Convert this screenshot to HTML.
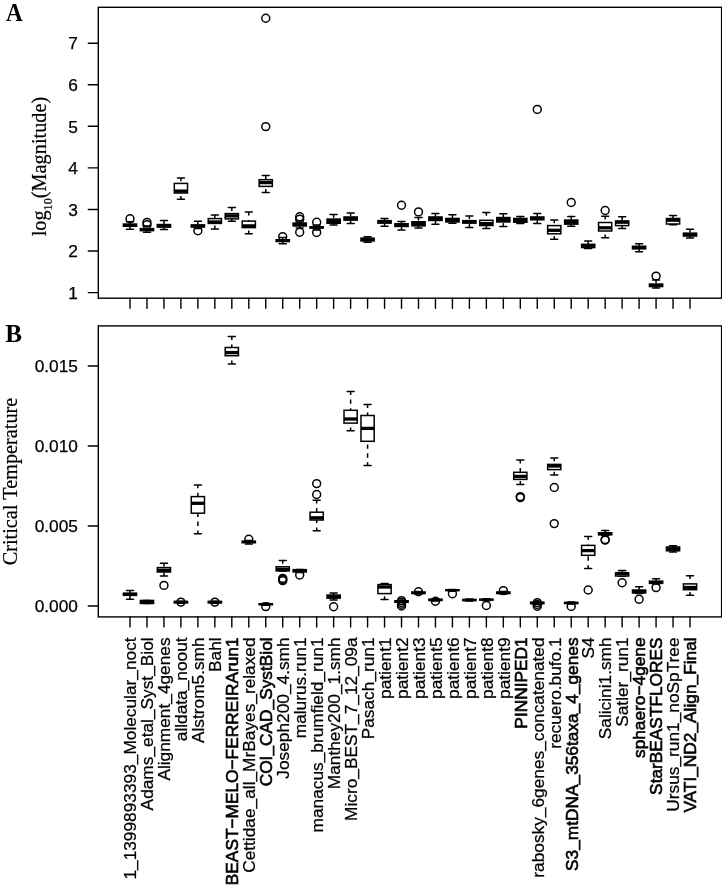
<!DOCTYPE html>
<html><head><meta charset="utf-8"><style>
html,body{margin:0;padding:0;background:#fff;}
body{width:722px;height:885px;overflow:hidden;}
svg{display:block;filter:grayscale(1);}
line{stroke:#000;stroke-width:1.5;}
line.w{stroke-dasharray:4.4 4.5;stroke-dashoffset:1.1;}
line.s{stroke-linecap:round;}
line.m{stroke-width:3.3;}
rect.b{fill:#fff;stroke:#000;stroke-width:1.5;}
rect.fr{fill:none;stroke:#000;stroke-width:1.4;}
line.t{stroke-width:1.4;stroke-linecap:round;}
circle{fill:none;stroke:#000;stroke-width:1.5;}
text{fill:#000;}
.tl{font-family:"Liberation Sans",sans-serif;font-size:17.3px;stroke:#000;stroke-width:0.25px;}
.xl{font-family:"Liberation Sans",sans-serif;font-size:17.3px;stroke:#000;stroke-width:0.25px;}
.xb{stroke:#000;stroke-width:0.6px;}
.pl{font-family:"Liberation Serif",serif;font-size:25.2px;font-weight:bold;}
.yt{font-family:"Liberation Serif",serif;font-size:20.3px;stroke:#000;stroke-width:0.2px;}
</style></head><body>
<svg width="722" height="885" viewBox="0 0 722 885">
<rect width="722" height="885" fill="#fff"/>
<rect x="98.3" y="7.3" width="623.3" height="290.9" class="fr"/>
<rect x="98.3" y="325.9" width="623.3" height="291" class="fr"/>
<line x1="88.3" y1="292.6" x2="98.3" y2="292.6" class="t"/>
<text x="77.9" y="298.8" class="tl" text-anchor="end">1</text>
<line x1="88.3" y1="251.03" x2="98.3" y2="251.03" class="t"/>
<text x="77.9" y="257.23" class="tl" text-anchor="end">2</text>
<line x1="88.3" y1="209.46" x2="98.3" y2="209.46" class="t"/>
<text x="77.9" y="215.66" class="tl" text-anchor="end">3</text>
<line x1="88.3" y1="167.89" x2="98.3" y2="167.89" class="t"/>
<text x="77.9" y="174.09" class="tl" text-anchor="end">4</text>
<line x1="88.3" y1="126.32" x2="98.3" y2="126.32" class="t"/>
<text x="77.9" y="132.52" class="tl" text-anchor="end">5</text>
<line x1="88.3" y1="84.75" x2="98.3" y2="84.75" class="t"/>
<text x="77.9" y="90.95" class="tl" text-anchor="end">6</text>
<line x1="88.3" y1="43.18" x2="98.3" y2="43.18" class="t"/>
<text x="77.9" y="49.38" class="tl" text-anchor="end">7</text>
<line x1="88.3" y1="606" x2="98.3" y2="606" class="t"/>
<text x="77.9" y="612.2" class="tl" text-anchor="end">0.000</text>
<line x1="88.3" y1="526" x2="98.3" y2="526" class="t"/>
<text x="77.9" y="532.2" class="tl" text-anchor="end">0.005</text>
<line x1="88.3" y1="446" x2="98.3" y2="446" class="t"/>
<text x="77.9" y="452.2" class="tl" text-anchor="end">0.010</text>
<line x1="88.3" y1="366" x2="98.3" y2="366" class="t"/>
<text x="77.9" y="372.2" class="tl" text-anchor="end">0.015</text>
<line x1="130" y1="298.2" x2="130" y2="308.3" class="t"/>
<line x1="146.97" y1="298.2" x2="146.97" y2="308.3" class="t"/>
<line x1="163.94" y1="298.2" x2="163.94" y2="308.3" class="t"/>
<line x1="180.91" y1="298.2" x2="180.91" y2="308.3" class="t"/>
<line x1="197.88" y1="298.2" x2="197.88" y2="308.3" class="t"/>
<line x1="214.85" y1="298.2" x2="214.85" y2="308.3" class="t"/>
<line x1="231.82" y1="298.2" x2="231.82" y2="308.3" class="t"/>
<line x1="248.79" y1="298.2" x2="248.79" y2="308.3" class="t"/>
<line x1="265.76" y1="298.2" x2="265.76" y2="308.3" class="t"/>
<line x1="282.73" y1="298.2" x2="282.73" y2="308.3" class="t"/>
<line x1="299.7" y1="298.2" x2="299.7" y2="308.3" class="t"/>
<line x1="316.67" y1="298.2" x2="316.67" y2="308.3" class="t"/>
<line x1="333.64" y1="298.2" x2="333.64" y2="308.3" class="t"/>
<line x1="350.61" y1="298.2" x2="350.61" y2="308.3" class="t"/>
<line x1="367.58" y1="298.2" x2="367.58" y2="308.3" class="t"/>
<line x1="384.55" y1="298.2" x2="384.55" y2="308.3" class="t"/>
<line x1="401.52" y1="298.2" x2="401.52" y2="308.3" class="t"/>
<line x1="418.49" y1="298.2" x2="418.49" y2="308.3" class="t"/>
<line x1="435.46" y1="298.2" x2="435.46" y2="308.3" class="t"/>
<line x1="452.43" y1="298.2" x2="452.43" y2="308.3" class="t"/>
<line x1="469.4" y1="298.2" x2="469.4" y2="308.3" class="t"/>
<line x1="486.37" y1="298.2" x2="486.37" y2="308.3" class="t"/>
<line x1="503.34" y1="298.2" x2="503.34" y2="308.3" class="t"/>
<line x1="520.31" y1="298.2" x2="520.31" y2="308.3" class="t"/>
<line x1="537.28" y1="298.2" x2="537.28" y2="308.3" class="t"/>
<line x1="554.25" y1="298.2" x2="554.25" y2="308.3" class="t"/>
<line x1="571.22" y1="298.2" x2="571.22" y2="308.3" class="t"/>
<line x1="588.19" y1="298.2" x2="588.19" y2="308.3" class="t"/>
<line x1="605.16" y1="298.2" x2="605.16" y2="308.3" class="t"/>
<line x1="622.13" y1="298.2" x2="622.13" y2="308.3" class="t"/>
<line x1="639.1" y1="298.2" x2="639.1" y2="308.3" class="t"/>
<line x1="656.07" y1="298.2" x2="656.07" y2="308.3" class="t"/>
<line x1="673.04" y1="298.2" x2="673.04" y2="308.3" class="t"/>
<line x1="690.01" y1="298.2" x2="690.01" y2="308.3" class="t"/>
<line x1="130" y1="616.9" x2="130" y2="627.0" class="t"/>
<line x1="146.97" y1="616.9" x2="146.97" y2="627.0" class="t"/>
<line x1="163.94" y1="616.9" x2="163.94" y2="627.0" class="t"/>
<line x1="180.91" y1="616.9" x2="180.91" y2="627.0" class="t"/>
<line x1="197.88" y1="616.9" x2="197.88" y2="627.0" class="t"/>
<line x1="214.85" y1="616.9" x2="214.85" y2="627.0" class="t"/>
<line x1="231.82" y1="616.9" x2="231.82" y2="627.0" class="t"/>
<line x1="248.79" y1="616.9" x2="248.79" y2="627.0" class="t"/>
<line x1="265.76" y1="616.9" x2="265.76" y2="627.0" class="t"/>
<line x1="282.73" y1="616.9" x2="282.73" y2="627.0" class="t"/>
<line x1="299.7" y1="616.9" x2="299.7" y2="627.0" class="t"/>
<line x1="316.67" y1="616.9" x2="316.67" y2="627.0" class="t"/>
<line x1="333.64" y1="616.9" x2="333.64" y2="627.0" class="t"/>
<line x1="350.61" y1="616.9" x2="350.61" y2="627.0" class="t"/>
<line x1="367.58" y1="616.9" x2="367.58" y2="627.0" class="t"/>
<line x1="384.55" y1="616.9" x2="384.55" y2="627.0" class="t"/>
<line x1="401.52" y1="616.9" x2="401.52" y2="627.0" class="t"/>
<line x1="418.49" y1="616.9" x2="418.49" y2="627.0" class="t"/>
<line x1="435.46" y1="616.9" x2="435.46" y2="627.0" class="t"/>
<line x1="452.43" y1="616.9" x2="452.43" y2="627.0" class="t"/>
<line x1="469.4" y1="616.9" x2="469.4" y2="627.0" class="t"/>
<line x1="486.37" y1="616.9" x2="486.37" y2="627.0" class="t"/>
<line x1="503.34" y1="616.9" x2="503.34" y2="627.0" class="t"/>
<line x1="520.31" y1="616.9" x2="520.31" y2="627.0" class="t"/>
<line x1="537.28" y1="616.9" x2="537.28" y2="627.0" class="t"/>
<line x1="554.25" y1="616.9" x2="554.25" y2="627.0" class="t"/>
<line x1="571.22" y1="616.9" x2="571.22" y2="627.0" class="t"/>
<line x1="588.19" y1="616.9" x2="588.19" y2="627.0" class="t"/>
<line x1="605.16" y1="616.9" x2="605.16" y2="627.0" class="t"/>
<line x1="622.13" y1="616.9" x2="622.13" y2="627.0" class="t"/>
<line x1="639.1" y1="616.9" x2="639.1" y2="627.0" class="t"/>
<line x1="656.07" y1="616.9" x2="656.07" y2="627.0" class="t"/>
<line x1="673.04" y1="616.9" x2="673.04" y2="627.0" class="t"/>
<line x1="690.01" y1="616.9" x2="690.01" y2="627.0" class="t"/>
<line x1="130" y1="229.3" x2="130" y2="226.3" class="w"/>
<line x1="130" y1="221.8" x2="130" y2="224" class="w"/>
<line x1="126.5" y1="221.8" x2="133.5" y2="221.8" class="s"/>
<line x1="126.5" y1="229.3" x2="133.5" y2="229.3" class="s"/>
<rect x="122.65" y="223.3" width="14.7" height="3.7"/>
<circle cx="130" cy="218.8" r="3.95"/>
<line x1="146.97" y1="232.2" x2="146.97" y2="230.7" class="w"/>
<line x1="146.97" y1="226.2" x2="146.97" y2="228.6" class="w"/>
<line x1="143.47" y1="226.2" x2="150.47" y2="226.2" class="s"/>
<line x1="143.47" y1="232.2" x2="150.47" y2="232.2" class="s"/>
<rect x="139.62" y="227.9" width="14.7" height="3.5"/>
<circle cx="146.97" cy="222.4" r="3.95"/>
<circle cx="146.97" cy="224.8" r="3.95"/>
<line x1="163.94" y1="229.5" x2="163.94" y2="227.2" class="w"/>
<line x1="163.94" y1="220.6" x2="163.94" y2="224.5" class="w"/>
<line x1="160.44" y1="220.6" x2="167.44" y2="220.6" class="s"/>
<line x1="160.44" y1="229.5" x2="167.44" y2="229.5" class="s"/>
<rect x="156.59" y="223.8" width="14.7" height="4.1"/>
<line x1="180.91" y1="199.3" x2="180.91" y2="193" class="w"/>
<line x1="180.91" y1="178" x2="180.91" y2="183.4" class="w"/>
<line x1="177.41" y1="178" x2="184.41" y2="178" class="s"/>
<line x1="177.41" y1="199.3" x2="184.41" y2="199.3" class="s"/>
<rect x="174.31" y="183.4" width="13.2" height="9.6" class="b"/>
<line x1="174.31" y1="191.1" x2="187.51" y2="191.1" class="m"/>
<line x1="197.88" y1="228.4" x2="197.88" y2="227.1" class="w"/>
<line x1="197.88" y1="221.3" x2="197.88" y2="224.8" class="w"/>
<line x1="194.38" y1="221.3" x2="201.38" y2="221.3" class="s"/>
<line x1="194.38" y1="228.4" x2="201.38" y2="228.4" class="s"/>
<rect x="190.53" y="224.1" width="14.7" height="3.7"/>
<circle cx="197.88" cy="230.8" r="3.95"/>
<line x1="214.85" y1="228.9" x2="214.85" y2="223.4" class="w"/>
<line x1="214.85" y1="215" x2="214.85" y2="218.6" class="w"/>
<line x1="211.35" y1="215" x2="218.35" y2="215" class="s"/>
<line x1="211.35" y1="228.9" x2="218.35" y2="228.9" class="s"/>
<rect x="208.25" y="218.6" width="13.2" height="4.8" class="b"/>
<line x1="208.25" y1="222" x2="221.45" y2="222" class="m"/>
<line x1="231.82" y1="221.3" x2="231.82" y2="218.9" class="w"/>
<line x1="231.82" y1="207.6" x2="231.82" y2="213.6" class="w"/>
<line x1="228.32" y1="207.6" x2="235.32" y2="207.6" class="s"/>
<line x1="228.32" y1="221.3" x2="235.32" y2="221.3" class="s"/>
<rect x="225.22" y="213.6" width="13.2" height="5.3" class="b"/>
<line x1="225.22" y1="215.9" x2="238.42" y2="215.9" class="m"/>
<line x1="248.79" y1="233.8" x2="248.79" y2="227.6" class="w"/>
<line x1="248.79" y1="212.1" x2="248.79" y2="221.1" class="w"/>
<line x1="245.29" y1="212.1" x2="252.29" y2="212.1" class="s"/>
<line x1="245.29" y1="233.8" x2="252.29" y2="233.8" class="s"/>
<rect x="242.19" y="221.1" width="13.2" height="6.5" class="b"/>
<line x1="242.19" y1="225.9" x2="255.39" y2="225.9" class="m"/>
<line x1="265.76" y1="192.4" x2="265.76" y2="186.4" class="w"/>
<line x1="265.76" y1="175.6" x2="265.76" y2="179.7" class="w"/>
<line x1="262.26" y1="175.6" x2="269.26" y2="175.6" class="s"/>
<line x1="262.26" y1="192.4" x2="269.26" y2="192.4" class="s"/>
<rect x="259.16" y="179.7" width="13.2" height="6.7" class="b"/>
<line x1="259.16" y1="182.6" x2="272.36" y2="182.6" class="m"/>
<circle cx="265.76" cy="18.2" r="3.95"/>
<circle cx="265.76" cy="126.6" r="3.95"/>
<line x1="282.73" y1="243.8" x2="282.73" y2="241.6" class="w"/>
<line x1="282.73" y1="237.6" x2="282.73" y2="239.7" class="w"/>
<line x1="279.23" y1="237.6" x2="286.23" y2="237.6" class="s"/>
<line x1="279.23" y1="243.8" x2="286.23" y2="243.8" class="s"/>
<rect x="275.38" y="239" width="14.7" height="3.3"/>
<circle cx="282.73" cy="236.6" r="3.95"/>
<line x1="299.7" y1="228" x2="299.7" y2="226" class="w"/>
<line x1="299.7" y1="221" x2="299.7" y2="223" class="w"/>
<line x1="296.2" y1="221" x2="303.2" y2="221" class="s"/>
<line x1="296.2" y1="228" x2="303.2" y2="228" class="s"/>
<rect x="292.35" y="222.3" width="14.7" height="4.4"/>
<circle cx="299.7" cy="216.7" r="3.95"/>
<circle cx="299.7" cy="219.3" r="3.95"/>
<circle cx="299.7" cy="232.3" r="3.95"/>
<line x1="316.67" y1="230" x2="316.67" y2="228.2" class="w"/>
<line x1="316.67" y1="225" x2="316.67" y2="226.7" class="w"/>
<line x1="313.17" y1="225" x2="320.17" y2="225" class="s"/>
<line x1="313.17" y1="230" x2="320.17" y2="230" class="s"/>
<rect x="309.32" y="226" width="14.7" height="2.9"/>
<circle cx="316.67" cy="222.3" r="3.95"/>
<circle cx="316.67" cy="232.5" r="3.95"/>
<line x1="333.64" y1="225" x2="333.64" y2="223.3" class="w"/>
<line x1="333.64" y1="214.6" x2="333.64" y2="219" class="w"/>
<line x1="330.14" y1="214.6" x2="337.14" y2="214.6" class="s"/>
<line x1="330.14" y1="225" x2="337.14" y2="225" class="s"/>
<rect x="326.29" y="218.3" width="14.7" height="5.7"/>
<line x1="350.61" y1="223.4" x2="350.61" y2="220.2" class="w"/>
<line x1="350.61" y1="213.1" x2="350.61" y2="216.9" class="w"/>
<line x1="347.11" y1="213.1" x2="354.11" y2="213.1" class="s"/>
<line x1="347.11" y1="223.4" x2="354.11" y2="223.4" class="s"/>
<rect x="343.26" y="216.2" width="14.7" height="4.7"/>
<line x1="367.58" y1="242.2" x2="367.58" y2="241" class="w"/>
<line x1="367.58" y1="236.7" x2="367.58" y2="238.1" class="w"/>
<line x1="364.08" y1="236.7" x2="371.08" y2="236.7" class="s"/>
<line x1="364.08" y1="242.2" x2="371.08" y2="242.2" class="s"/>
<rect x="360.23" y="237.4" width="14.7" height="4.3"/>
<line x1="384.55" y1="226.2" x2="384.55" y2="223.2" class="w"/>
<line x1="384.55" y1="218.4" x2="384.55" y2="220.6" class="w"/>
<line x1="381.05" y1="218.4" x2="388.05" y2="218.4" class="s"/>
<line x1="381.05" y1="226.2" x2="388.05" y2="226.2" class="s"/>
<rect x="377.2" y="219.9" width="14.7" height="4"/>
<line x1="401.52" y1="230.1" x2="401.52" y2="226.5" class="w"/>
<line x1="401.52" y1="221.4" x2="401.52" y2="223.7" class="w"/>
<line x1="398.02" y1="221.4" x2="405.02" y2="221.4" class="s"/>
<line x1="398.02" y1="230.1" x2="405.02" y2="230.1" class="s"/>
<rect x="394.17" y="223" width="14.7" height="4.2"/>
<circle cx="401.52" cy="205.3" r="3.95"/>
<line x1="418.49" y1="227.9" x2="418.49" y2="225.9" class="w"/>
<line x1="418.49" y1="217.4" x2="418.49" y2="221.7" class="w"/>
<line x1="414.99" y1="217.4" x2="421.99" y2="217.4" class="s"/>
<line x1="414.99" y1="227.9" x2="421.99" y2="227.9" class="s"/>
<rect x="411.14" y="221" width="14.7" height="5.6"/>
<circle cx="418.49" cy="211.9" r="3.95"/>
<line x1="435.46" y1="224.3" x2="435.46" y2="220.5" class="w"/>
<line x1="435.46" y1="213.4" x2="435.46" y2="216.9" class="w"/>
<line x1="431.96" y1="213.4" x2="438.96" y2="213.4" class="s"/>
<line x1="431.96" y1="224.3" x2="438.96" y2="224.3" class="s"/>
<rect x="428.11" y="216.2" width="14.7" height="5"/>
<line x1="452.43" y1="223.2" x2="452.43" y2="222" class="w"/>
<line x1="452.43" y1="214.7" x2="452.43" y2="218.4" class="w"/>
<line x1="448.93" y1="214.7" x2="455.93" y2="214.7" class="s"/>
<line x1="448.93" y1="223.2" x2="455.93" y2="223.2" class="s"/>
<rect x="445.08" y="217.7" width="14.7" height="5"/>
<line x1="469.4" y1="227.4" x2="469.4" y2="223.2" class="w"/>
<line x1="469.4" y1="215.9" x2="469.4" y2="220.6" class="w"/>
<line x1="465.9" y1="215.9" x2="472.9" y2="215.9" class="s"/>
<line x1="465.9" y1="227.4" x2="472.9" y2="227.4" class="s"/>
<rect x="462.05" y="219.9" width="14.7" height="4"/>
<line x1="486.37" y1="228.4" x2="486.37" y2="225.5" class="w"/>
<line x1="486.37" y1="212.4" x2="486.37" y2="220.3" class="w"/>
<line x1="482.87" y1="212.4" x2="489.87" y2="212.4" class="s"/>
<line x1="482.87" y1="228.4" x2="489.87" y2="228.4" class="s"/>
<rect x="479.77" y="220.3" width="13.2" height="5.2" class="b"/>
<line x1="479.77" y1="223.6" x2="492.97" y2="223.6" class="m"/>
<line x1="503.34" y1="226.4" x2="503.34" y2="222" class="w"/>
<line x1="503.34" y1="213.7" x2="503.34" y2="217.5" class="w"/>
<line x1="499.84" y1="213.7" x2="506.84" y2="213.7" class="s"/>
<line x1="499.84" y1="226.4" x2="506.84" y2="226.4" class="s"/>
<rect x="495.99" y="216.8" width="14.7" height="5.9"/>
<line x1="520.31" y1="223.5" x2="520.31" y2="222.3" class="w"/>
<line x1="520.31" y1="216.4" x2="520.31" y2="218.4" class="w"/>
<line x1="516.81" y1="216.4" x2="523.81" y2="216.4" class="s"/>
<line x1="516.81" y1="223.5" x2="523.81" y2="223.5" class="s"/>
<rect x="512.96" y="217.7" width="14.7" height="5.3"/>
<line x1="537.28" y1="223.4" x2="537.28" y2="219.8" class="w"/>
<line x1="537.28" y1="213.4" x2="537.28" y2="216.9" class="w"/>
<line x1="533.78" y1="213.4" x2="540.78" y2="213.4" class="s"/>
<line x1="533.78" y1="223.4" x2="540.78" y2="223.4" class="s"/>
<rect x="529.93" y="216.2" width="14.7" height="4.3"/>
<circle cx="537.28" cy="109.4" r="3.95"/>
<line x1="554.25" y1="239.2" x2="554.25" y2="233.8" class="w"/>
<line x1="554.25" y1="219.9" x2="554.25" y2="225.6" class="w"/>
<line x1="550.75" y1="219.9" x2="557.75" y2="219.9" class="s"/>
<line x1="550.75" y1="239.2" x2="557.75" y2="239.2" class="s"/>
<rect x="547.65" y="225.6" width="13.2" height="8.2" class="b"/>
<line x1="547.65" y1="230.3" x2="560.85" y2="230.3" class="m"/>
<line x1="571.22" y1="226.2" x2="571.22" y2="224.2" class="w"/>
<line x1="571.22" y1="216.6" x2="571.22" y2="220" class="w"/>
<line x1="567.72" y1="216.6" x2="574.72" y2="216.6" class="s"/>
<line x1="567.72" y1="226.2" x2="574.72" y2="226.2" class="s"/>
<rect x="563.87" y="219.3" width="14.7" height="5.6"/>
<circle cx="571.22" cy="202.5" r="3.95"/>
<line x1="588.19" y1="248.5" x2="588.19" y2="247.6" class="w"/>
<line x1="588.19" y1="241.1" x2="588.19" y2="244.3" class="w"/>
<line x1="584.69" y1="241.1" x2="591.69" y2="241.1" class="s"/>
<line x1="584.69" y1="248.5" x2="591.69" y2="248.5" class="s"/>
<rect x="580.84" y="243.6" width="14.7" height="4.7"/>
<line x1="605.16" y1="237.8" x2="605.16" y2="231" class="w"/>
<line x1="605.16" y1="216.2" x2="605.16" y2="222.5" class="w"/>
<line x1="601.66" y1="216.2" x2="608.66" y2="216.2" class="s"/>
<line x1="601.66" y1="237.8" x2="608.66" y2="237.8" class="s"/>
<rect x="598.56" y="222.5" width="13.2" height="8.5" class="b"/>
<line x1="598.56" y1="227.8" x2="611.76" y2="227.8" class="m"/>
<circle cx="605.16" cy="210.5" r="3.95"/>
<line x1="622.13" y1="228.4" x2="622.13" y2="225.6" class="w"/>
<line x1="622.13" y1="216.8" x2="622.13" y2="221" class="w"/>
<line x1="618.63" y1="216.8" x2="625.63" y2="216.8" class="s"/>
<line x1="618.63" y1="228.4" x2="625.63" y2="228.4" class="s"/>
<rect x="615.53" y="221" width="13.2" height="4.6" class="b"/>
<line x1="615.53" y1="222.2" x2="628.73" y2="222.2" class="m"/>
<line x1="639.1" y1="251.8" x2="639.1" y2="248.9" class="w"/>
<line x1="639.1" y1="243.7" x2="639.1" y2="246.2" class="w"/>
<line x1="635.6" y1="243.7" x2="642.6" y2="243.7" class="s"/>
<line x1="635.6" y1="251.8" x2="642.6" y2="251.8" class="s"/>
<rect x="631.75" y="245.5" width="14.7" height="4.1"/>
<line x1="656.07" y1="288" x2="656.07" y2="286.6" class="w"/>
<line x1="656.07" y1="280" x2="656.07" y2="284" class="w"/>
<line x1="652.57" y1="280" x2="659.57" y2="280" class="s"/>
<line x1="652.57" y1="288" x2="659.57" y2="288" class="s"/>
<rect x="648.72" y="283.3" width="14.7" height="4"/>
<circle cx="656.07" cy="276.1" r="3.95"/>
<line x1="673.04" y1="224.7" x2="673.04" y2="224" class="w"/>
<line x1="673.04" y1="215.6" x2="673.04" y2="218.5" class="w"/>
<line x1="669.54" y1="215.6" x2="676.54" y2="215.6" class="s"/>
<line x1="669.54" y1="224.7" x2="676.54" y2="224.7" class="s"/>
<rect x="666.44" y="218.5" width="13.2" height="5.5" class="b"/>
<line x1="666.44" y1="220.2" x2="679.64" y2="220.2" class="m"/>
<line x1="690.01" y1="238" x2="690.01" y2="236.1" class="w"/>
<line x1="690.01" y1="229.3" x2="690.01" y2="233.1" class="w"/>
<line x1="686.51" y1="229.3" x2="693.51" y2="229.3" class="s"/>
<line x1="686.51" y1="238" x2="693.51" y2="238" class="s"/>
<rect x="682.66" y="232.4" width="14.7" height="4.4"/>
<line x1="130" y1="599.3" x2="130" y2="595.4" class="w"/>
<line x1="130" y1="590.6" x2="130" y2="593.1" class="w"/>
<line x1="126.5" y1="590.6" x2="133.5" y2="590.6" class="s"/>
<line x1="126.5" y1="599.3" x2="133.5" y2="599.3" class="s"/>
<rect x="122.65" y="592.4" width="14.7" height="3.7"/>
<line x1="143.47" y1="600.5" x2="150.47" y2="600.5" class="s"/>
<line x1="143.47" y1="603.5" x2="150.47" y2="603.5" class="s"/>
<rect x="139.62" y="599.7" width="14.7" height="4.5"/>
<line x1="163.94" y1="575.9" x2="163.94" y2="572" class="w"/>
<line x1="163.94" y1="563.2" x2="163.94" y2="567.6" class="w"/>
<line x1="160.44" y1="563.2" x2="167.44" y2="563.2" class="s"/>
<line x1="160.44" y1="575.9" x2="167.44" y2="575.9" class="s"/>
<rect x="157.34" y="567.6" width="13.2" height="4.4" class="b"/>
<line x1="157.34" y1="570.3" x2="170.54" y2="570.3" class="m"/>
<circle cx="163.94" cy="585.4" r="3.95"/>
<line x1="177.41" y1="601.2" x2="184.41" y2="601.2" class="s"/>
<line x1="177.41" y1="603.2" x2="184.41" y2="603.2" class="s"/>
<rect x="173.56" y="600.6" width="14.7" height="3.1"/>
<circle cx="180.91" cy="602.1" r="3.95"/>
<line x1="197.88" y1="533.8" x2="197.88" y2="513.2" class="w"/>
<line x1="197.88" y1="485" x2="197.88" y2="496.6" class="w"/>
<line x1="194.38" y1="485" x2="201.38" y2="485" class="s"/>
<line x1="194.38" y1="533.8" x2="201.38" y2="533.8" class="s"/>
<rect x="191.28" y="496.6" width="13.2" height="16.6" class="b"/>
<line x1="191.28" y1="503.3" x2="204.48" y2="503.3" class="m"/>
<line x1="211.35" y1="601.2" x2="218.35" y2="601.2" class="s"/>
<line x1="211.35" y1="603.2" x2="218.35" y2="603.2" class="s"/>
<rect x="207.5" y="600.6" width="14.7" height="3.1"/>
<circle cx="214.85" cy="602.1" r="3.95"/>
<line x1="231.82" y1="363.9" x2="231.82" y2="355.7" class="w"/>
<line x1="231.82" y1="336.6" x2="231.82" y2="347.5" class="w"/>
<line x1="228.32" y1="336.6" x2="235.32" y2="336.6" class="s"/>
<line x1="228.32" y1="363.9" x2="235.32" y2="363.9" class="s"/>
<rect x="225.22" y="347.5" width="13.2" height="8.2" class="b"/>
<line x1="225.22" y1="352.6" x2="238.42" y2="352.6" class="m"/>
<line x1="248.79" y1="544" x2="248.79" y2="542.8" class="w"/>
<line x1="248.79" y1="540.5" x2="248.79" y2="541.1" class="w"/>
<line x1="245.29" y1="540.5" x2="252.29" y2="540.5" class="s"/>
<line x1="245.29" y1="544" x2="252.29" y2="544" class="s"/>
<rect x="241.44" y="540.4" width="14.7" height="3.1"/>
<circle cx="248.79" cy="539.3" r="3.95"/>
<line x1="265.76" y1="605.2" x2="265.76" y2="604.8" class="w"/>
<line x1="265.76" y1="603.3" x2="265.76" y2="603.7" class="w"/>
<line x1="262.26" y1="603.3" x2="269.26" y2="603.3" class="s"/>
<line x1="262.26" y1="605.2" x2="269.26" y2="605.2" class="s"/>
<rect x="258.41" y="603" width="14.7" height="2.5"/>
<circle cx="265.76" cy="606.6" r="3.95"/>
<line x1="282.73" y1="560.4" x2="282.73" y2="566.8" class="w"/>
<line x1="279.23" y1="560.4" x2="286.23" y2="560.4" class="s"/>
<line x1="279.23" y1="571" x2="286.23" y2="571" class="s"/>
<rect x="276.13" y="566.8" width="13.2" height="4.1" class="b"/>
<line x1="276.13" y1="569.4" x2="289.33" y2="569.4" class="m"/>
<circle cx="282.73" cy="578.4" r="3.95"/>
<circle cx="282.73" cy="579.5" r="3.95"/>
<circle cx="282.73" cy="580.6" r="3.95"/>
<line x1="299.7" y1="572.6" x2="299.7" y2="572" class="w"/>
<line x1="296.2" y1="569.6" x2="303.2" y2="569.6" class="s"/>
<line x1="296.2" y1="572.6" x2="303.2" y2="572.6" class="s"/>
<rect x="292.35" y="568.9" width="14.7" height="3.8"/>
<circle cx="299.7" cy="575" r="3.95"/>
<line x1="316.67" y1="530.7" x2="316.67" y2="520" class="w"/>
<line x1="316.67" y1="500.2" x2="316.67" y2="512.2" class="w"/>
<line x1="313.17" y1="500.2" x2="320.17" y2="500.2" class="s"/>
<line x1="313.17" y1="530.7" x2="320.17" y2="530.7" class="s"/>
<rect x="310.07" y="512.2" width="13.2" height="7.8" class="b"/>
<line x1="310.07" y1="517.8" x2="323.27" y2="517.8" class="m"/>
<circle cx="316.67" cy="483.6" r="3.95"/>
<circle cx="316.67" cy="494.5" r="3.95"/>
<line x1="333.64" y1="599.9" x2="333.64" y2="598.2" class="w"/>
<line x1="333.64" y1="593" x2="333.64" y2="595" class="w"/>
<line x1="330.14" y1="593" x2="337.14" y2="593" class="s"/>
<line x1="330.14" y1="599.9" x2="337.14" y2="599.9" class="s"/>
<rect x="326.29" y="594.3" width="14.7" height="4.6"/>
<circle cx="333.64" cy="606.7" r="3.95"/>
<line x1="350.61" y1="430.8" x2="350.61" y2="423.1" class="w"/>
<line x1="350.61" y1="391.6" x2="350.61" y2="410.3" class="w"/>
<line x1="347.11" y1="391.6" x2="354.11" y2="391.6" class="s"/>
<line x1="347.11" y1="430.8" x2="354.11" y2="430.8" class="s"/>
<rect x="344.01" y="410.3" width="13.2" height="12.8" class="b"/>
<line x1="344.01" y1="419" x2="357.21" y2="419" class="m"/>
<line x1="367.58" y1="465.5" x2="367.58" y2="441.3" class="w"/>
<line x1="367.58" y1="404.6" x2="367.58" y2="415.5" class="w"/>
<line x1="364.08" y1="404.6" x2="371.08" y2="404.6" class="s"/>
<line x1="364.08" y1="465.5" x2="371.08" y2="465.5" class="s"/>
<rect x="360.98" y="415.5" width="13.2" height="25.8" class="b"/>
<line x1="360.98" y1="428.4" x2="374.18" y2="428.4" class="m"/>
<line x1="384.55" y1="599.5" x2="384.55" y2="593.6" class="w"/>
<line x1="384.55" y1="583.6" x2="384.55" y2="584.6" class="w"/>
<line x1="381.05" y1="583.6" x2="388.05" y2="583.6" class="s"/>
<line x1="381.05" y1="599.5" x2="388.05" y2="599.5" class="s"/>
<rect x="377.95" y="584.6" width="13.2" height="9" class="b"/>
<line x1="377.95" y1="587" x2="391.15" y2="587" class="m"/>
<line x1="401.52" y1="602.8" x2="401.52" y2="602.3" class="w"/>
<line x1="401.52" y1="600.3" x2="401.52" y2="600.7" class="w"/>
<line x1="398.02" y1="600.3" x2="405.02" y2="600.3" class="s"/>
<line x1="398.02" y1="602.8" x2="405.02" y2="602.8" class="s"/>
<rect x="394.17" y="600" width="14.7" height="3"/>
<circle cx="401.52" cy="600.6" r="3.95"/>
<circle cx="401.52" cy="602.5" r="3.95"/>
<circle cx="401.52" cy="604.3" r="3.95"/>
<circle cx="401.52" cy="606" r="3.95"/>
<line x1="418.49" y1="594" x2="418.49" y2="593.6" class="w"/>
<line x1="418.49" y1="591.6" x2="418.49" y2="591.9" class="w"/>
<line x1="414.99" y1="591.6" x2="421.99" y2="591.6" class="s"/>
<line x1="414.99" y1="594" x2="421.99" y2="594" class="s"/>
<rect x="411.14" y="591.2" width="14.7" height="3.1"/>
<circle cx="418.49" cy="591.8" r="3.95"/>
<line x1="435.46" y1="601" x2="435.46" y2="600.5" class="w"/>
<line x1="435.46" y1="598.8" x2="435.46" y2="599.1" class="w"/>
<line x1="431.96" y1="598.8" x2="438.96" y2="598.8" class="s"/>
<line x1="431.96" y1="601" x2="438.96" y2="601" class="s"/>
<rect x="428.11" y="598.4" width="14.7" height="2.8"/>
<circle cx="435.46" cy="601.2" r="3.95"/>
<line x1="452.43" y1="591.2" x2="452.43" y2="590.7" class="w"/>
<line x1="452.43" y1="589.4" x2="452.43" y2="589.7" class="w"/>
<line x1="448.93" y1="589.4" x2="455.93" y2="589.4" class="s"/>
<line x1="448.93" y1="591.2" x2="455.93" y2="591.2" class="s"/>
<rect x="445.08" y="589" width="14.7" height="2.4"/>
<circle cx="452.43" cy="593.7" r="3.95"/>
<line x1="469.4" y1="601.1" x2="469.4" y2="600.7" class="w"/>
<line x1="469.4" y1="599" x2="469.4" y2="599.4" class="w"/>
<line x1="465.9" y1="599" x2="472.9" y2="599" class="s"/>
<line x1="465.9" y1="601.1" x2="472.9" y2="601.1" class="s"/>
<rect x="462.05" y="598.7" width="14.7" height="2.7"/>
<line x1="486.37" y1="600.7" x2="486.37" y2="600.2" class="w"/>
<line x1="486.37" y1="598.8" x2="486.37" y2="599.1" class="w"/>
<line x1="482.87" y1="598.8" x2="489.87" y2="598.8" class="s"/>
<line x1="482.87" y1="600.7" x2="489.87" y2="600.7" class="s"/>
<rect x="479.02" y="598.4" width="14.7" height="2.5"/>
<circle cx="486.37" cy="605.5" r="3.95"/>
<line x1="503.34" y1="594" x2="503.34" y2="593.6" class="w"/>
<line x1="503.34" y1="591.6" x2="503.34" y2="591.9" class="w"/>
<line x1="499.84" y1="591.6" x2="506.84" y2="591.6" class="s"/>
<line x1="499.84" y1="594" x2="506.84" y2="594" class="s"/>
<rect x="495.99" y="591.2" width="14.7" height="3.1"/>
<circle cx="503.34" cy="590.6" r="3.95"/>
<line x1="520.31" y1="484.4" x2="520.31" y2="479.4" class="w"/>
<line x1="520.31" y1="460.1" x2="520.31" y2="472.3" class="w"/>
<line x1="516.81" y1="460.1" x2="523.81" y2="460.1" class="s"/>
<line x1="516.81" y1="484.4" x2="523.81" y2="484.4" class="s"/>
<rect x="513.71" y="472.3" width="13.2" height="7.1" class="b"/>
<line x1="513.71" y1="476.4" x2="526.91" y2="476.4" class="m"/>
<circle cx="520.31" cy="496.6" r="3.95"/>
<circle cx="520.31" cy="497.6" r="3.95"/>
<line x1="537.28" y1="604.2" x2="537.28" y2="603.8" class="w"/>
<line x1="537.28" y1="601.8" x2="537.28" y2="602.1" class="w"/>
<line x1="533.78" y1="601.8" x2="540.78" y2="601.8" class="s"/>
<line x1="533.78" y1="604.2" x2="540.78" y2="604.2" class="s"/>
<rect x="529.93" y="601.4" width="14.7" height="3.1"/>
<circle cx="537.28" cy="602.6" r="3.95"/>
<circle cx="537.28" cy="604.5" r="3.95"/>
<circle cx="537.28" cy="606.3" r="3.95"/>
<line x1="554.25" y1="475" x2="554.25" y2="469.6" class="w"/>
<line x1="554.25" y1="457.9" x2="554.25" y2="464.4" class="w"/>
<line x1="550.75" y1="457.9" x2="557.75" y2="457.9" class="s"/>
<line x1="550.75" y1="475" x2="557.75" y2="475" class="s"/>
<rect x="547.65" y="464.4" width="13.2" height="5.2" class="b"/>
<line x1="547.65" y1="466" x2="560.85" y2="466" class="m"/>
<circle cx="554.25" cy="487.5" r="3.95"/>
<circle cx="554.25" cy="523.6" r="3.95"/>
<line x1="571.22" y1="604" x2="571.22" y2="603.6" class="w"/>
<line x1="571.22" y1="602" x2="571.22" y2="602.3" class="w"/>
<line x1="567.72" y1="602" x2="574.72" y2="602" class="s"/>
<line x1="567.72" y1="604" x2="574.72" y2="604" class="s"/>
<rect x="563.87" y="601.6" width="14.7" height="2.7"/>
<circle cx="571.22" cy="606.4" r="3.95"/>
<line x1="588.19" y1="568.5" x2="588.19" y2="555.3" class="w"/>
<line x1="588.19" y1="536.6" x2="588.19" y2="545.4" class="w"/>
<line x1="584.69" y1="536.6" x2="591.69" y2="536.6" class="s"/>
<line x1="584.69" y1="568.5" x2="591.69" y2="568.5" class="s"/>
<rect x="581.59" y="545.4" width="13.2" height="9.9" class="b"/>
<line x1="581.59" y1="550.6" x2="594.79" y2="550.6" class="m"/>
<circle cx="588.19" cy="590" r="3.95"/>
<line x1="605.16" y1="535.4" x2="605.16" y2="534.9" class="w"/>
<line x1="605.16" y1="530.5" x2="605.16" y2="532.7" class="w"/>
<line x1="601.66" y1="530.5" x2="608.66" y2="530.5" class="s"/>
<line x1="601.66" y1="535.4" x2="608.66" y2="535.4" class="s"/>
<rect x="597.81" y="532" width="14.7" height="3.6"/>
<circle cx="605.16" cy="539.5" r="3.95"/>
<circle cx="605.16" cy="540.1" r="3.95"/>
<line x1="622.13" y1="570.5" x2="622.13" y2="573.1" class="w"/>
<line x1="618.63" y1="570.5" x2="625.63" y2="570.5" class="s"/>
<line x1="618.63" y1="576.2" x2="625.63" y2="576.2" class="s"/>
<rect x="615.53" y="573.1" width="13.2" height="2.9" class="b"/>
<line x1="615.53" y1="573.5" x2="628.73" y2="573.5" class="m"/>
<circle cx="622.13" cy="582.8" r="3.95"/>
<line x1="639.1" y1="593.5" x2="639.1" y2="593" class="w"/>
<line x1="639.1" y1="586.7" x2="639.1" y2="590" class="w"/>
<line x1="635.6" y1="586.7" x2="642.6" y2="586.7" class="s"/>
<line x1="635.6" y1="593.5" x2="642.6" y2="593.5" class="s"/>
<rect x="631.75" y="589.3" width="14.7" height="4.4"/>
<circle cx="639.1" cy="599.3" r="3.95"/>
<line x1="656.07" y1="584" x2="656.07" y2="583.4" class="w"/>
<line x1="656.07" y1="578.8" x2="656.07" y2="581.1" class="w"/>
<line x1="652.57" y1="578.8" x2="659.57" y2="578.8" class="s"/>
<line x1="652.57" y1="584" x2="659.57" y2="584" class="s"/>
<rect x="648.72" y="580.4" width="14.7" height="3.7"/>
<circle cx="656.07" cy="587.6" r="3.95"/>
<line x1="673.04" y1="551.9" x2="673.04" y2="550.8" class="w"/>
<line x1="673.04" y1="545.8" x2="673.04" y2="547" class="w"/>
<line x1="669.54" y1="545.8" x2="676.54" y2="545.8" class="s"/>
<line x1="669.54" y1="551.9" x2="676.54" y2="551.9" class="s"/>
<rect x="666.44" y="547" width="13.2" height="3.8" class="b"/>
<line x1="666.44" y1="548.8" x2="679.64" y2="548.8" class="m"/>
<line x1="690.01" y1="595.2" x2="690.01" y2="589.7" class="w"/>
<line x1="690.01" y1="575.7" x2="690.01" y2="583.9" class="w"/>
<line x1="686.51" y1="575.7" x2="693.51" y2="575.7" class="s"/>
<line x1="686.51" y1="595.2" x2="693.51" y2="595.2" class="s"/>
<rect x="683.41" y="583.9" width="13.2" height="5.8" class="b"/>
<line x1="683.41" y1="587.5" x2="696.61" y2="587.5" class="m"/>
<text transform="translate(136.3,637.4) rotate(-90)" class="xl" text-anchor="end">1<tspan dy="-0.9">_</tspan><tspan dy="0.9">1399893393</tspan><tspan dy="-0.9">_</tspan><tspan dy="0.9">Molecular</tspan><tspan dy="-0.9">_</tspan><tspan dy="0.9">noct</tspan></text>
<text transform="translate(153.27,637.4) rotate(-90)" class="xl" text-anchor="end">Adams<tspan dy="-0.9">_</tspan><tspan dy="0.9">etal</tspan><tspan dy="-0.9">_</tspan><tspan dy="0.9">Syst</tspan><tspan dy="-0.9">_</tspan><tspan dy="0.9">Biol</tspan></text>
<text transform="translate(170.24,637.4) rotate(-90)" class="xl" text-anchor="end">Alignment<tspan dy="-0.9">_</tspan><tspan dy="0.9">4genes</tspan></text>
<text transform="translate(187.21,637.4) rotate(-90)" class="xl" text-anchor="end">alldata<tspan dy="-0.9">_</tspan><tspan dy="0.9">noout</tspan></text>
<text transform="translate(204.18,637.4) rotate(-90)" class="xl" text-anchor="end">Alstrom5.smh</text>
<text transform="translate(221.15,637.4) rotate(-90)" class="xl" text-anchor="end">Bahl</text>
<text transform="translate(238.12,637.4) rotate(-90)" class="xl xb" text-anchor="end">BEAST−MELO−FERREIRArun1</text>
<text transform="translate(255.09,637.4) rotate(-90)" class="xl" text-anchor="end">Cettidae<tspan dy="-0.9">_</tspan><tspan dy="0.9">all</tspan><tspan dy="-0.9">_</tspan><tspan dy="0.9">MrBayes</tspan><tspan dy="-0.9">_</tspan><tspan dy="0.9">relaxed</tspan></text>
<text transform="translate(272.06,637.4) rotate(-90)" class="xl xb" text-anchor="end">COI<tspan dy="-0.9">_</tspan><tspan dy="0.9">CAD</tspan><tspan dy="-0.9">_</tspan><tspan dy="0.9">SystBiol</tspan></text>
<text transform="translate(289.03,637.4) rotate(-90)" class="xl" text-anchor="end">Joseph200<tspan dy="-0.9">_</tspan><tspan dy="0.9">4.smh</tspan></text>
<text transform="translate(306,637.4) rotate(-90)" class="xl" text-anchor="end">malurus.run1</text>
<text transform="translate(322.97,637.4) rotate(-90)" class="xl" text-anchor="end">manacus<tspan dy="-0.9">_</tspan><tspan dy="0.9">brumfield</tspan><tspan dy="-0.9">_</tspan><tspan dy="0.9">run1</tspan></text>
<text transform="translate(339.94,637.4) rotate(-90)" class="xl" text-anchor="end">Manthey200<tspan dy="-0.9">_</tspan><tspan dy="0.9">1.smh</tspan></text>
<text transform="translate(356.91,637.4) rotate(-90)" class="xl" text-anchor="end">Micro<tspan dy="-0.9">_</tspan><tspan dy="0.9">BEST</tspan><tspan dy="-0.9">_</tspan><tspan dy="0.9">7</tspan><tspan dy="-0.9">_</tspan><tspan dy="0.9">12</tspan><tspan dy="-0.9">_</tspan><tspan dy="0.9">09a</tspan></text>
<text transform="translate(373.88,637.4) rotate(-90)" class="xl" text-anchor="end">Pasach<tspan dy="-0.9">_</tspan><tspan dy="0.9">run1</tspan></text>
<text transform="translate(390.85,637.4) rotate(-90)" class="xl" text-anchor="end">patient1</text>
<text transform="translate(407.82,637.4) rotate(-90)" class="xl" text-anchor="end">patient2</text>
<text transform="translate(424.79,637.4) rotate(-90)" class="xl" text-anchor="end">patient3</text>
<text transform="translate(441.76,637.4) rotate(-90)" class="xl" text-anchor="end">patient5</text>
<text transform="translate(458.73,637.4) rotate(-90)" class="xl" text-anchor="end">patient6</text>
<text transform="translate(475.7,637.4) rotate(-90)" class="xl" text-anchor="end">patient7</text>
<text transform="translate(492.67,637.4) rotate(-90)" class="xl" text-anchor="end">patient8</text>
<text transform="translate(509.64,637.4) rotate(-90)" class="xl" text-anchor="end">patient9</text>
<text transform="translate(526.61,637.4) rotate(-90)" class="xl xb" text-anchor="end">PINNIPED1</text>
<text transform="translate(543.58,637.4) rotate(-90)" class="xl" text-anchor="end">rabosky<tspan dy="-0.9">_</tspan><tspan dy="0.9">6genes</tspan><tspan dy="-0.9">_</tspan><tspan dy="0.9">concatenated</tspan></text>
<text transform="translate(560.55,637.4) rotate(-90)" class="xl" text-anchor="end">recuero.bufo.1</text>
<text transform="translate(577.52,637.4) rotate(-90)" class="xl xb" text-anchor="end">S3<tspan dy="-0.9">_</tspan><tspan dy="0.9">mtDNA</tspan><tspan dy="-0.9">_</tspan><tspan dy="0.9">356taxa</tspan><tspan dy="-0.9">_</tspan><tspan dy="0.9">4</tspan><tspan dy="-0.9">_</tspan><tspan dy="0.9">genes</tspan></text>
<text transform="translate(594.49,637.4) rotate(-90)" class="xl" text-anchor="end">S4</text>
<text transform="translate(611.46,637.4) rotate(-90)" class="xl" text-anchor="end">Salicini1.smh</text>
<text transform="translate(628.43,637.4) rotate(-90)" class="xl" text-anchor="end">Satler<tspan dy="-0.9">_</tspan><tspan dy="0.9">run1</tspan></text>
<text transform="translate(645.4,637.4) rotate(-90)" class="xl xb" text-anchor="end">sphaero−4gene</text>
<text transform="translate(662.37,637.4) rotate(-90)" class="xl xb" text-anchor="end">StarBEASTFLORES</text>
<text transform="translate(679.34,637.4) rotate(-90)" class="xl" text-anchor="end">Ursus<tspan dy="-0.9">_</tspan><tspan dy="0.9">run1</tspan><tspan dy="-0.9">_</tspan><tspan dy="0.9">noSpTree</tspan></text>
<text transform="translate(696.31,637.4) rotate(-90)" class="xl xb" text-anchor="end">VATI<tspan dy="-0.9">_</tspan><tspan dy="0.9">ND2</tspan><tspan dy="-0.9">_</tspan><tspan dy="0.9">Align</tspan><tspan dy="-0.9">_</tspan><tspan dy="0.9">Final</tspan></text>
<text x="14.3" y="21.2" class="pl" text-anchor="middle" transform="translate(14.3,0) scale(0.92,1) translate(-14.3,0)">A</text>
<text x="5.2" y="341.8" class="pl">B</text>
<text transform="translate(45.6,236.3) rotate(-90)" class="yt">log<tspan font-size="12.2" dy="6.8">10</tspan><tspan dy="-6.8">(Magnitude)</tspan></text>
<text transform="translate(16.8,481.5) rotate(-90)" class="yt" text-anchor="middle">Critical Temperature</text>
</svg>
</body></html>
